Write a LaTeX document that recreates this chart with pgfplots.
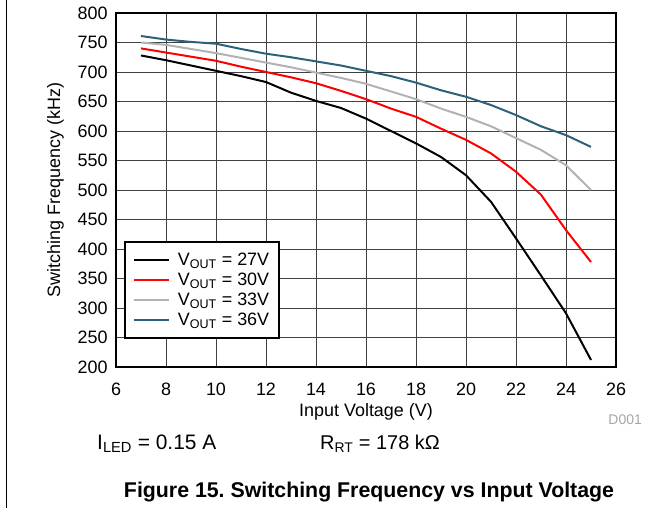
\documentclass[border=0pt]{standalone}
\usepackage{pgfplots}
\pgfplotsset{compat=1.18}
\usepackage{fontspec}
\setmainfont{Liberation Sans}
\definecolor{c27}{RGB}{0,0,0}
\definecolor{c30}{RGB}{255,0,0}
\definecolor{c33}{RGB}{178,178,178}
\definecolor{c36}{RGB}{44,97,122}
\begin{document}
\frenchspacing
\begin{tikzpicture}
\useasboundingbox (0,0) rectangle (669bp,-508bp);
\draw[line width=1bp] (6bp,0) -- (6bp,-508bp);
\begin{axis}[
    at={(116bp,-367bp)}, anchor=south west,
    scale only axis,
    width=500bp, height=354bp,
    xmin=6, xmax=26, ymin=200, ymax=800,
    xtick={6,8,...,26}, ytick={200,250,...,800},
    grid=major,
    major grid style={black!75, line width=0.8bp},
    major tick length=0pt,
    axis line style={line width=2bp},
    tick label style={font=\fontsize{18}{20}\selectfont},
    yticklabel style={xshift=-5bp},
    xticklabel style={anchor=base, yshift=-28bp},
    /pgf/number format/assume math mode=true,
    label style={font=\fontsize{18}{20}\selectfont},
    xlabel={Input Voltage (V)},
    xlabel style={at={(axis description cs:0.5,0)}, anchor=base, yshift=-49.7bp},
    ylabel={Switching Frequency (kHz)},
    ylabel style={at={(axis description cs:-0.112,0.5)}, anchor=base},
    legend style={at={(0.016,0.356)}, anchor=north west,
        draw=black, line width=1.8bp, font=\fontsize{18}{20}\selectfont,
        row sep=2bp, inner xsep=8bp, inner ysep=9bp},
    legend cell align=left,
    legend image code/.code={\draw[#1, line width=2bp] (0bp,0bp) -- (35bp,0bp); \path (41bp,0bp);},
    every axis plot/.append style={line width=2bp},
]
\addplot[c27] coordinates {
    (7,728) (8,720) (9,711) (10,702) (11,693) (12,683) (13,665) (14,651)
    (15,639) (16,621) (17,600) (18,579) (19,556) (20,525) (21,480)
    (22,418) (23,355) (24,291) (25,212)
};
\addplot[c30] coordinates {
    (7,740) (8,733) (9,726) (10,719) (11,709) (12,700) (13,691) (14,681)
    (15,668) (16,654) (17,638) (18,624) (19,604) (20,585) (21,562)
    (22,531) (23,492) (24,432) (25,378)
};
\addplot[c33] coordinates {
    (7,750) (8,746) (9,739) (10,732) (11,724) (12,716) (13,708) (14,699)
    (15,690) (16,680) (17,667) (18,654) (19,638) (20,624) (21,608)
    (22,588) (23,568) (24,542) (25,500)
};
\addplot[c36] coordinates {
    (7,761) (8,755) (9,751) (10,748) (11,739) (12,731) (13,725) (14,718)
    (15,711) (16,702) (17,693) (18,682) (19,669) (20,658) (21,644)
    (22,627) (23,608) (24,593) (25,573)
};
\legend{V\textsubscript{OUT} = 27V, V\textsubscript{OUT} = 30V,
        V\textsubscript{OUT} = 33V, V\textsubscript{OUT} = 36V}
\end{axis}
\node[anchor=base east, inner sep=0pt, text=black!35, font=\fontsize{14}{16}\selectfont] at (642bp,-424bp) {D001};
\node[anchor=base west, inner sep=0pt, font=\fontsize{21}{22}\selectfont] at (97bp,-449bp) {I\textsubscript{LED} = 0.15 A};
\node[anchor=base west, inner sep=0pt, font=\fontsize{20}{22}\selectfont] at (320bp,-449bp) {R\textsubscript{RT} = 178 k\symbol{"03A9}};
\node[anchor=base, inner sep=0pt, font=\bfseries\fontsize{21.4}{24}\selectfont] at (369bp,-497bp) {Figure 15. Switching Frequency vs Input Voltage};
\end{tikzpicture}
\end{document}
